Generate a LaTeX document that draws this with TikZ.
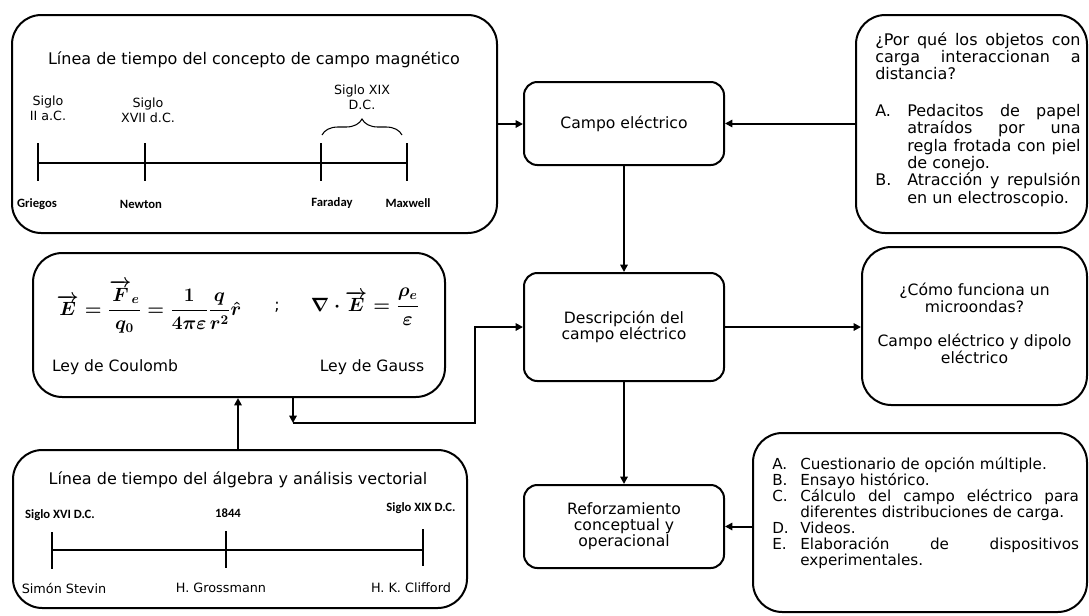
\documentclass[tikz,border=0pt]{standalone}
\usepackage{amsmath}
\usepackage[no-math]{fontspec}
\setmainfont{DejaVu Sans}
\newfontfamily\calfont{Carlito}
\usetikzlibrary{arrows.meta,decorations.pathreplacing,fit}
\newcommand\fsz[2]{\fontsize{#1}{#2}\selectfont}
\newlength\qW \setlength\qW{154pt}
\newlength\qI \setlength\qI{24pt}
\newlength\qR \setlength\qR{\dimexpr\qW-\qI\relax}
\newlength\lW \setlength\lW{230pt}
\newlength\lI \setlength\lI{21pt}
\newlength\lR \setlength\lR{\dimexpr\lW-\lI\relax}
\newcommand\qfull[1]{\makebox[\qW][s]{#1}}
\newcommand\qitem[2]{\makebox[\qI][l]{#1}\makebox[\qR][s]{#2}}
\newcommand\qcont[1]{\hspace*{\qI}\makebox[\qR][s]{#1}}
\newcommand\qlast[1]{\hspace*{\qI}#1}
\newcommand\litem[2]{\makebox[\lI][l]{#1}#2}
\newcommand\lstr[2]{\makebox[\lI][l]{#1}\makebox[\lR][s]{#2}}
\newcommand\lcont[1]{\hspace*{\lI}#1}
\newsavebox\formA
\newsavebox\formB
\begin{document}
\sbox\formA{\fsz{14}{16}\boldmath$\overrightarrow{E}=\dfrac{\overrightarrow{F}_{e}}{q_{0}}=\dfrac{1}{4\pi\varepsilon}\dfrac{q}{r^{2}}\hat{r}$}%
\sbox\formB{\fsz{14}{16}\boldmath$\nabla\cdot\overrightarrow{E}=\dfrac{\rho_{e}}{\varepsilon}$}%
\begin{tikzpicture}[x=0.75pt,y=-0.75pt,
  bigbox/.style={draw,line width=1.5pt,rounded corners=22pt,inner sep=0pt},
  smallbox/.style={draw,line width=1.5pt,rounded corners=10pt,inner sep=0pt,align=center,font=\fsz{11.7}{12}},
  arr/.style={line width=1.5pt,-{Triangle[length=5.5pt,width=5.5pt]}},
  tl/.style={line width=1.5pt},
  ttl/.style={inner sep=0pt,font=\fsz{12}{14}},
  lab/.style={inner sep=0pt,align=center,font=\fsz{9.5}{11.25}},
  nm/.style={inner sep=0pt,font=\calfont\bfseries\fsz{9.5}{11}},
  nmtwo/.style={inner sep=0pt,font=\fsz{9.6}{11}},
  txt/.style={inner sep=0pt,font=\fsz{11.7}{12.75},align=center},
  qtxt/.style={inner sep=0pt,align=left,font=\fsz{12}{13}},
  ltxt/.style={inner sep=0pt,align=left,font=\fsz{11.4}{12}}]
\fill[white] (0,0) rectangle (1089,615);
\useasboundingbox (0,0) rectangle (1089,615);

% ---- magnetic field timeline box
\node[bigbox, fit={(12,15) (497,233)}] (mag) {};
\node[ttl] (magt) at (254,60) {Línea de tiempo del concepto de campo magnético};
\node[lab] (s1) at (48,108) {Siglo\\II a.C.};
\node[lab] (s2) at (148,110) {Siglo\\XVII d.C.};
\node[lab] (s3) at (362,97) {Siglo XIX\\D.C.};
\draw[line width=0.8pt,decorate,decoration={brace,amplitude=12pt}] (322,135) -- (402,135);
\draw[tl] (38,163) -- (407,163);
\foreach \x in {38,145,321,407} \draw[tl] (\x,143) -- (\x,181);
\node[nm] (n1) at (37,204) {Griegos};
\node[nm] (n2) at (141,204) {Newton};
\node[nm] (n3) at (332,203) {Faraday};
\node[nm] (n4) at (408,203) {Maxwell};

% ---- formula box
\node[bigbox, fit={(33,253) (445,397)}] (fbox) {};
\node[inner sep=0pt] (f1) at (149,307) {\usebox\formA};
\node[inner sep=0pt,font=\fsz{12}{14}] (semi) at (277,307) {;};
\node[inner sep=0pt] (f2) at (365,307) {\usebox\formB};
\node[txt] (lc) at (115,367) {Ley de Coulomb};
\node[txt] (lg) at (372,367) {Ley de Gauss};

% ---- algebra timeline box
\node[bigbox, fit={(13,450) (467,608)}] (alg) {};
\node[ttl] (algt) at (238,480) {Línea de tiempo del álgebra y análisis vectorial};
\node[nm] (a1) at (60,515) {Siglo XVI D.C.};
\node[nm] (a2) at (228,513) {1844};
\node[nm] (a3) at (421,508) {Siglo XIX D.C.};
\draw[tl] (52,550) -- (423,550);
\draw[tl] (52,532) -- (52,569);
\draw[tl] (226,531) -- (226,568);
\draw[tl] (423,529) -- (423,566);
\node[nmtwo] (b1) at (64,588) {Simón Stevin};
\node[nmtwo] (b2) at (221,588) {H. Grossmann};
\node[nmtwo] (b3) at (411,588) {H. K. Clifford};

% ---- central column
\node[smallbox, minimum width=150pt, minimum height=62.25pt] (campo) at (624,123.5) {Campo eléctrico};
\node[smallbox, minimum width=150pt, minimum height=81pt] (desc) at (624,327) {Descripción del\\campo eléctrico};
\node[smallbox, minimum width=150pt, minimum height=62.25pt] (reforz) at (624,526.5) {Reforzamiento\\conceptual y\\operacional};

% ---- right column
\node[bigbox, fit={(856,15) (1087,233)}] (qbox) {};
\node[qtxt, anchor=north west] (q1) at (875,32) {\qfull{¿Por qué los objetos con}\\\qfull{carga interaccionan a}\\distancia?};
\node[qtxt, anchor=north west] (q2) at (875,104) {\qitem{A.}{Pedacitos de papel}\\\qcont{atraídos por una}\\\qcont{regla frotada con piel}\\\qlast{de conejo.}\\\qitem{B.}{Atracción y repulsión}\\\qlast{en un electroscopio.}};

\node[bigbox, fit={(862,247) (1087,405)}] (mic) {};
\node[txt] (mict) at (974.5,323) {¿Cómo funciona un\\microondas?\\[12.75pt]Campo eléctrico y dipolo\\eléctrico};

\node[bigbox, fit={(753,433) (1087,612)}] (list) {};
\node[ltxt, anchor=north west] (lt) at (772,457) {\litem{A.}{Cuestionario de opción múltiple.}\\\litem{B.}{Ensayo histórico.}\\\lstr{C.}{Cálculo del campo eléctrico para}\\\lcont{diferentes distribuciones de carga.}\\\litem{D.}{Videos.}\\\lstr{E.}{Elaboración de dispositivos}\\\lcont{experimentales.}};

% ---- connectors
\coordinate (c1) at (293,423);
\coordinate (c2) at (475,423);
\coordinate (cx) at (238,0);
\draw[arr] (mag.east) -- (mag.east -| campo.west);
\draw[arr] (qbox.west |- campo.east) -- (campo.east);
\draw[arr] (campo.south) -- (desc.north);
\draw[arr] (desc.east) -- (desc.east -| mic.west);
\draw[arr] (desc.south) -- (reforz.north);
\draw[arr] (list.west |- reforz.east) -- (reforz.east);
\draw[arr] (alg.north -| cx) -- (fbox.south -| cx);
\draw[arr] (fbox.south -| c1) -- (c1);
\draw[arr] (c1) -- (c2) |- (desc.west);
\end{tikzpicture}
\end{document}
